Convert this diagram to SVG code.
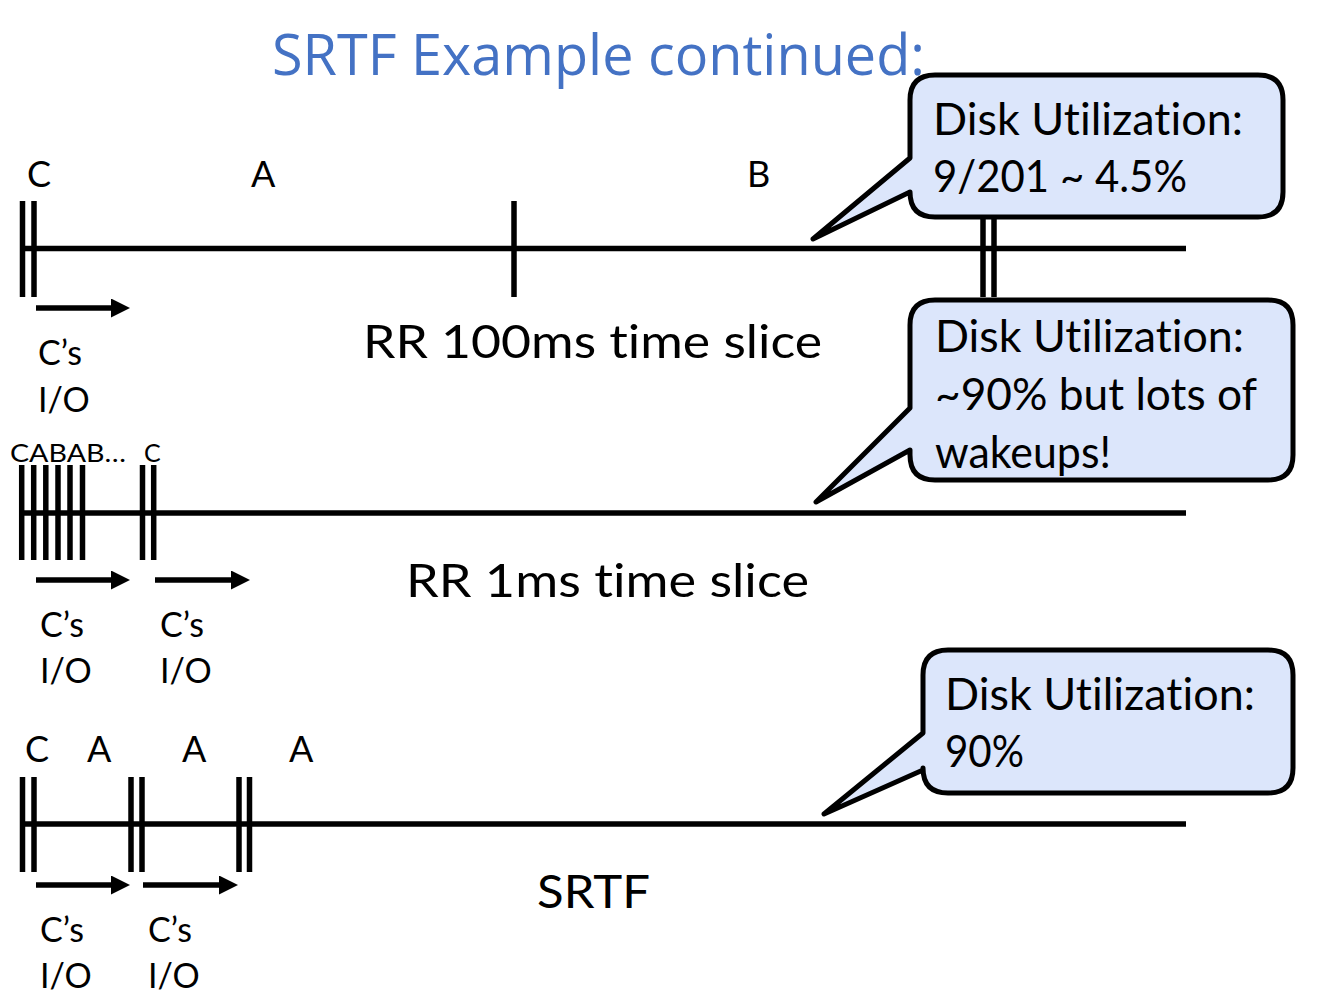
<svg xmlns="http://www.w3.org/2000/svg" width="1333" height="993" viewBox="0 0 1333 993">
<defs>
<marker id="ah" markerWidth="19" markerHeight="19" refX="11" refY="9.5" orient="auto" markerUnits="userSpaceOnUse">
<path d="M0,0 L19,9.5 L0,19 Z" fill="#000"/>
</marker>
<style>
.t{font-family:"Lato","Liberation Sans",sans-serif;fill:#000;font-variant-ligatures:none;font-feature-settings:"liga" 0,"clig" 0}
.tick{stroke:#000;stroke-width:5.5}
.axis{stroke:#000;stroke-width:5.5}
.arr{stroke:#000;stroke-width:5.5;marker-end:url(#ah)}
.bub{fill:#dce6fb;stroke:#000;stroke-width:5;stroke-linejoin:round}
</style>
</defs>
<rect width="1333" height="993" fill="#fff"/>
<text x="272" y="75" font-family="Open Sans, Liberation Sans, sans-serif" font-size="56" fill="#4472c4" textLength="653" lengthAdjust="spacingAndGlyphs">SRTF Example continued:</text>

<g id="connectors">
<!-- timeline 1 -->
<line class="axis" x1="22" y1="248.5" x2="1186" y2="248.5"/>
<line class="tick" x1="22.5" y1="201" x2="22.5" y2="297"/>
<line class="tick" x1="34" y1="201" x2="34" y2="297"/>
<line class="tick" x1="514" y1="201" x2="514" y2="297"/>
<line class="tick" x1="983" y1="201" x2="983" y2="297"/>
<line class="tick" x1="994" y1="201" x2="994" y2="297"/>
<line class="arr" x1="36" y1="308" x2="122" y2="308"/>
<!-- timeline 2 -->
<line class="axis" x1="20" y1="513" x2="1186" y2="513"/>
<line class="tick" x1="21.7" y1="465" x2="21.7" y2="560"/>
<line class="tick" x1="33.7" y1="465" x2="33.7" y2="560"/>
<line class="tick" x1="45.8" y1="465" x2="45.8" y2="560"/>
<line class="tick" x1="58" y1="465" x2="58" y2="560"/>
<line class="tick" x1="70" y1="465" x2="70" y2="560"/>
<line class="tick" x1="82.5" y1="465" x2="82.5" y2="560"/>
<line class="tick" x1="142.5" y1="465" x2="142.5" y2="560"/>
<line class="tick" x1="153.7" y1="465" x2="153.7" y2="560"/>
<line class="arr" x1="36" y1="580" x2="122" y2="580"/>
<line class="arr" x1="155" y1="580" x2="242" y2="580"/>
<!-- timeline 3 -->
<line class="axis" x1="20" y1="824" x2="1186" y2="824"/>
<line class="tick" x1="22.5" y1="777" x2="22.5" y2="872"/>
<line class="tick" x1="34" y1="777" x2="34" y2="872"/>
<line class="tick" x1="131" y1="777" x2="131" y2="872"/>
<line class="tick" x1="142" y1="777" x2="142" y2="872"/>
<line class="tick" x1="239" y1="777" x2="239" y2="872"/>
<line class="tick" x1="249.5" y1="777" x2="249.5" y2="872"/>
<line class="arr" x1="36" y1="885" x2="122" y2="885"/>
<line class="arr" x1="143" y1="885" x2="230" y2="885"/>
</g>

<g id="labels1">
<text class="t" x="27" y="187" font-size="36">C</text>
<text class="t" x="251" y="187" font-size="36">A</text>
<text class="t" x="747" y="187" font-size="36">B</text>
<text class="t" x="363" y="358" font-size="46" textLength="459" lengthAdjust="spacingAndGlyphs">RR 100ms time slice</text>
<text class="t" x="38" y="365" font-size="34">C’s</text>
<text class="t" x="38" y="412" font-size="34">I/O</text>
</g>
<g id="labels2">
<text class="t" x="10" y="462" font-size="25" textLength="116" lengthAdjust="spacingAndGlyphs">CABAB…</text>
<text class="t" x="144" y="462" font-size="25">C</text>
<text class="t" x="406" y="597" font-size="46" textLength="403" lengthAdjust="spacingAndGlyphs">RR 1ms time slice</text>
<text class="t" x="40" y="637" font-size="34">C’s</text>
<text class="t" x="40" y="683" font-size="34">I/O</text>
<text class="t" x="160" y="637" font-size="34">C’s</text>
<text class="t" x="160" y="683" font-size="34">I/O</text>
</g>
<g id="labels3">
<text class="t" x="25" y="762" font-size="36">C</text>
<text class="t" x="87" y="762" font-size="36">A</text>
<text class="t" x="182" y="762" font-size="36">A</text>
<text class="t" x="289" y="762" font-size="36">A</text>
<text class="t" x="537" y="908" font-size="46" textLength="113" lengthAdjust="spacingAndGlyphs">SRTF</text>
<text class="t" x="40" y="942" font-size="34">C’s</text>
<text class="t" x="40" y="988" font-size="34">I/O</text>
<text class="t" x="148" y="942" font-size="34">C’s</text>
<text class="t" x="148" y="988" font-size="34">I/O</text>
</g>

<g id="callout1">
<path class="bub" d="M935,75 H1258 Q1283,75 1283,100 V192 Q1283,217 1258,217 H935 Q910,217 910,192 V192 L813,239 L910,158 V100 Q910,75 935,75 Z"/>
<text class="t" x="933" y="135" font-size="44" textLength="310" lengthAdjust="spacingAndGlyphs">Disk Utilization:</text>
<text class="t" x="933" y="192" font-size="44" textLength="254" lengthAdjust="spacingAndGlyphs">9/201 ~ 4.5%</text>
</g>
<g id="callout2">
<path class="bub" d="M935,300 H1268 Q1293,300 1293,325 V455 Q1293,480 1268,480 H935 Q910,480 910,455 V450 L816,502 L910,408 V325 Q910,300 935,300 Z"/>
<text class="t" x="935" y="352" font-size="44" textLength="309" lengthAdjust="spacingAndGlyphs">Disk Utilization:</text>
<text class="t" x="935" y="410" font-size="44" textLength="322" lengthAdjust="spacingAndGlyphs">~90% but lots of</text>
<text class="t" x="935" y="468" font-size="44" textLength="176" lengthAdjust="spacingAndGlyphs">wakeups!</text>
</g>
<g id="callout3">
<path class="bub" d="M948,650 H1268 Q1293,650 1293,675 V768 Q1293,793 1268,793 H948 Q923,793 923,768 V770 L824,814 L923,733 V675 Q923,650 948,650 Z"/>
<text class="t" x="945" y="710" font-size="44" textLength="310" lengthAdjust="spacingAndGlyphs">Disk Utilization:</text>
<text class="t" x="945" y="767" font-size="44" textLength="79" lengthAdjust="spacingAndGlyphs">90%</text>
</g>
</svg>
